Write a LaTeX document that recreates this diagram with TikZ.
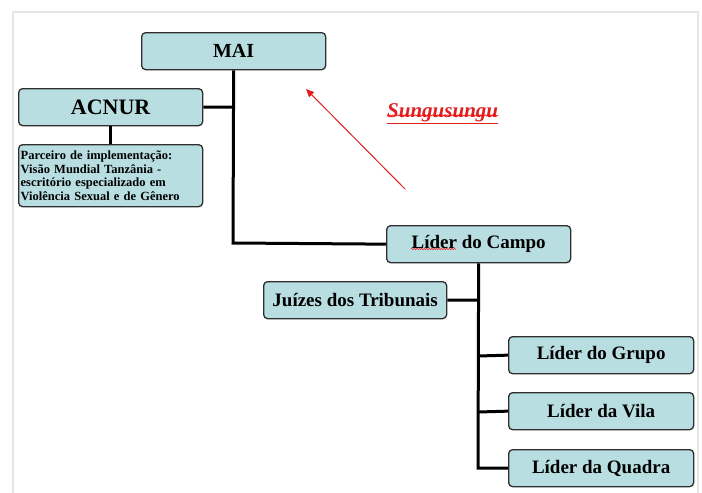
\documentclass[tikz,border=0pt]{standalone}
\usepackage{fontspec}
\setmainfont{Liberation Serif}
\usetikzlibrary{arrows.meta,decorations.pathmorphing}
\definecolor{boxfill}{HTML}{B8DEE2}
\definecolor{boxline}{HTML}{2E2E2E}
\definecolor{framegray}{HTML}{E6E6E6}
\definecolor{arrowred}{HTML}{E02020}
\tikzset{
  orgbox/.style={draw=boxline, line width=1.3pt, fill=boxfill, rounded corners=4pt,
    minimum width=184pt, minimum height=37pt, inner sep=2pt, font=\bfseries\fontsize{19}{21}\selectfont, anchor=north west},
  link/.style={line width=3pt, black},
  wavy/.style={draw=red, line width=0.5pt, decorate, decoration={snake, amplitude=0.6pt, segment length=2.5pt}}
}
\begin{document}
\begin{tikzpicture}[x=1pt,y=-1pt]
\useasboundingbox (0,0) rectangle (702,493);
\fill[white] (0,0) rectangle (702,493);
\draw[framegray, line width=1.5pt] (13,500) -- (13,12) -- (698,12) -- (698,500);

\node[orgbox, font=\bfseries\fontsize{20}{22}\selectfont] (mai) at (141,32) {MAI};
\node[orgbox, font=\bfseries\fontsize{22}{24}\selectfont] (acnur) at (18,88) {ACNUR};
\node[orgbox, minimum height=62pt, align=left, text width=180pt, inner sep=2pt, font=\bfseries\fontsize{12.5}{13.4}\selectfont] (parc) at (18,144)
  {Parceiro de implementação:\\Visão Mundial Tanzânia -\\escritório especializado em\\Violência Sexual e de Gênero};
\node[orgbox] (campo) at (386,225) {Líder do Campo};
\node[orgbox, minimum width=183pt] (juizes) at (263,281) {Juízes dos Tribunais};
\node[orgbox, minimum width=185pt] (grupo) at (508,336) {Líder do Grupo};
\node[orgbox, minimum width=185pt] (vila) at (508,392) {Líder da Vila};
\node[orgbox, minimum width=185pt] (quadra) at (508,449) {Líder da Quadra};

\coordinate (j1) at (233,107);
\coordinate (j2) at (233,243);
\coordinate (k1) at (478,300);
\coordinate (k2) at (478,356);
\coordinate (k3) at (478,412);
\coordinate (k4) at (478,468);

\draw[link] (mai.south) -- (j2) -- (campo.west);
\draw[link] (acnur.east) -- (j1);
\draw[link] (acnur.south) -- (parc.north);
\draw[link] (campo.south) -- (k4) -- (quadra.west);
\draw[link] (juizes.east) -- (k1);
\draw[link] (k2) -- (grupo.west);
\draw[link] (k3) -- (vila.west);

\coordinate (atail) at (405,189);
\coordinate (ahead) at (306,89);
\draw[arrowred, line width=1pt, -{Triangle[length=8pt,width=7pt]}] (atail) -- (ahead);

\node[text=arrowred, font=\bfseries\itshape\fontsize{21}{23}\selectfont, anchor=west, inner sep=0pt] (sung) at (387,114) {\underline{Sungusungu}};
\draw[wavy] ([yshift=9pt]sung.south west) -- ([yshift=9pt]sung.south east);

\coordinate (w1) at (411,249);
\coordinate (w2) at (456,249);
\draw[wavy] (w1) -- (w2);
\end{tikzpicture}
\end{document}
